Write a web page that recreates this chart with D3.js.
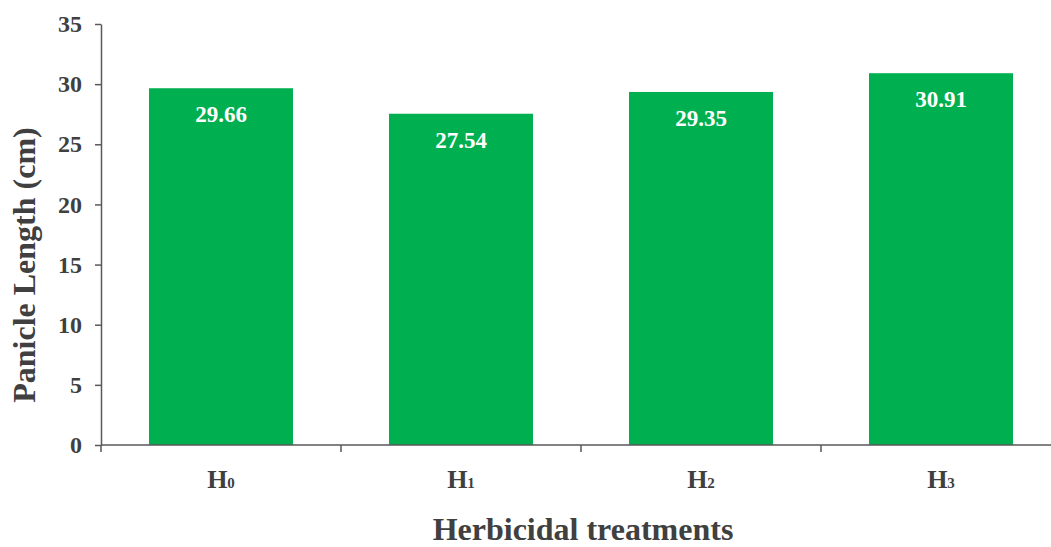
<!DOCTYPE html>
<html>
<head>
<meta charset="utf-8">
<script src="https://cdn.jsdelivr.net/npm/d3@7"></script>
<style>
  html, body { margin: 0; padding: 0; background: #fff; }
  svg { display: block; }
  text { font-family: "Liberation Serif", "Times New Roman", serif; font-weight: bold; }
</style>
</head>
<body>
<script>
// Panicle length by herbicidal treatment
const treatments = ["H", "H", "H", "H"];
const subscripts = ["0", "1", "2", "3"];
const categories = ["H0", "H1", "H2", "H3"];
const panicleLength = [29.66, 27.54, 29.35, 30.91];
const yTicks = [0, 5, 10, 15, 20, 25, 30, 35];

const width = 1051, height = 547;
const axisColor = "#595959";
const textColor = "#404040";
const barColor = "#00B050";

const svg = d3.select("body").append("svg")
  .attr("width", width)
  .attr("height", height);

const x = d3.scaleBand()
  .domain(categories)
  .range([101, 1061])
  .paddingInner(0.4)
  .paddingOuter(0.2);

const y = d3.scaleLinear()
  .domain([0, 35])
  .range([445, 24]);

// bars
svg.append("g")
  .selectAll("rect")
  .data(panicleLength)
  .join("rect")
  .attr("x", (d, i) => x(categories[i]))
  .attr("y", d => y(d))
  .attr("width", x.bandwidth())
  .attr("height", d => y(0) - y(d))
  .attr("fill", barColor);

// value labels inside bars
svg.append("g")
  .selectAll("text")
  .data(panicleLength)
  .join("text")
  .attr("x", (d, i) => x(categories[i]) + x.bandwidth() / 2)
  .attr("y", d => y(d) + 34)
  .attr("text-anchor", "middle")
  .attr("fill", "#fff")
  .attr("font-size", 23)
  .text(d => d.toFixed(2));

// y axis
const yAxis = svg.append("g")
  .attr("transform", "translate(101,0)")
  .call(d3.axisLeft(y).tickValues(yTicks).tickSize(6).tickPadding(13).tickSizeOuter(0));
yAxis.select(".domain").attr("stroke", axisColor).attr("stroke-width", 1.5);
yAxis.selectAll(".tick line").attr("stroke", axisColor).attr("stroke-width", 1.5);
yAxis.selectAll(".tick text")
  .attr("fill", textColor)
  .attr("font-size", 24)
  .attr("font-family", "Liberation Serif, Times New Roman, serif")
  .attr("font-weight", "bold");

// x axis: ticks sit on category boundaries
const xAxisG = svg.append("g").attr("transform", `translate(0,${y(0)})`);
xAxisG.append("line")
  .attr("x1", 101).attr("x2", width)
  .attr("stroke", axisColor).attr("stroke-width", 1.5);
const step = x.step();
xAxisG.selectAll("line.tick")
  .data(categories)
  .join("line")
  .attr("class", "tick")
  .attr("x1", d => x(d) - step * 0.2)
  .attr("x2", d => x(d) - step * 0.2)
  .attr("y1", 0).attr("y2", 7)
  .attr("stroke", axisColor).attr("stroke-width", 1.5);

const xl = svg.append("g")
  .selectAll("text")
  .data(categories)
  .join("text")
  .attr("x", d => x(d) + x.bandwidth() / 2)
  .attr("y", 488)
  .attr("text-anchor", "middle")
  .attr("fill", textColor)
  .attr("font-size", 26);
xl.append("tspan").text((d, i) => treatments[i]);
xl.append("tspan").attr("font-size", 15).text((d, i) => subscripts[i]);

// axis titles
svg.append("text")
  .attr("x", 583)
  .attr("y", 540)
  .attr("text-anchor", "middle")
  .attr("fill", textColor)
  .attr("font-size", 32)
  .text("Herbicidal treatments");

svg.append("text")
  .attr("transform", "translate(35,265) rotate(-90)")
  .attr("text-anchor", "middle")
  .attr("fill", textColor)
  .attr("font-size", 32)
  .text("Panicle Length (cm)");
</script>
</body>
</html>
